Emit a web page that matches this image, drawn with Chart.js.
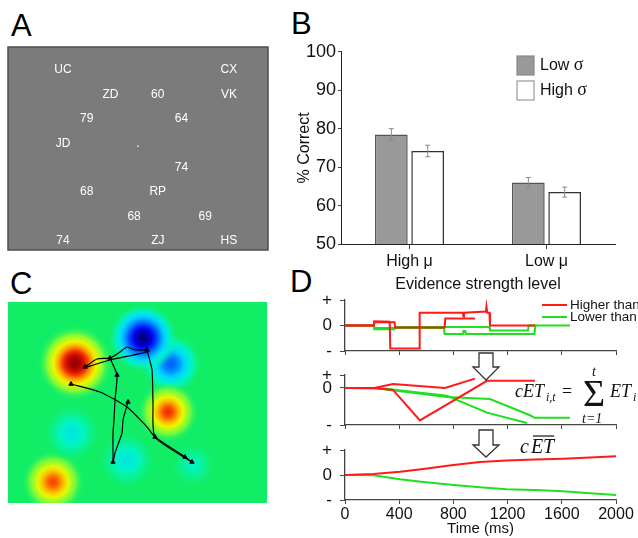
<!DOCTYPE html>
<html>
<head>
<meta charset="utf-8">
<script src="https://cdn.jsdelivr.net/npm/chart.js@4.4.1/dist/chart.umd.min.js"></script>
<style>
  body { margin: 0; background: #fff; }
  #page { position: relative; width: 638px; height: 538px; overflow: hidden; font-family: 'Liberation Sans', Arial, sans-serif; }
  canvas, .tag, svg { position: absolute; }
  .tag { font-size: 31px; line-height: 31px; color: #000; }
</style>
</head>
<body>
<div id="page">
  <div class="tag" style="left:11px;top:10px">A</div>
  <div class="tag" style="left:291px;top:8px">B</div>
  <div class="tag" style="left:10px;top:268px">C</div>
  <div class="tag" style="left:290px;top:266px">D</div>
  <canvas id="cA" width="275" height="215" style="left:0;top:40px"></canvas>
  <canvas id="cB" width="358" height="258" style="left:280px;top:39px"></canvas>
  <canvas id="cC" width="280" height="250" style="left:0;top:262px"></canvas>
  <canvas id="cD1" width="348" height="92" style="left:290px;top:283px"></canvas>
  <canvas id="cD2" width="348" height="94" style="left:290px;top:358px"></canvas>
  <canvas id="cD3" width="348" height="108" style="left:290px;top:430px"></canvas>
  <svg width="638" height="538" style="left:0;top:0">
    <polygon points="479,353 493,353 493,367 499,367 486,380 473,367 479,367" fill="#fff" stroke="#333" stroke-width="1.3"/>
    <polygon points="479,430 493,430 493,445 499,445 486,457 473,445 479,445" fill="#fff" stroke="#333" stroke-width="1.3"/>
  </svg>
</div>
<script>
// ---- A: stimulus screen (8 x 8 grid positions)
const aText = ['UC', 'CX', 'ZD', '60', 'VK', '79', '64', 'JD', '.', '74', '68', 'RP', '68', '69', '74', 'ZJ', 'HS'];
const aCol = [0, 7, 2, 4, 7, 1, 5, 0, 3.16, 5, 1, 4, 3, 6, 0, 4, 7];
const aRow = [0, 0, 1, 1, 1, 2, 2, 3, 3, 4, 5, 5, 6, 6, 7, 7, 7];

// ---- B: accuracy
const bCats = ['High \u03bc', 'Low \u03bc'];
const bLowSigma = [78.5, 66.0];
const bHighSigma = [74.2, 63.5];
const bLowSigmaErr = [1.5, 1.3];
const bHighSigmaErr = [1.5, 1.3];
const bTicks = [50, 60, 70, 80, 90, 100];
const bLegend = ['Low ', 'High '];

// ---- C: value map blobs and eye tracks
const blobX = [67, 163, 135, 160, 45, 64, 119, 185];
const blobY = [61, 62, 36, 110, 180, 131, 158, 163];
const blobR = [37, 30, 34, 30, 31, 28, 28, 22];
const blobPeak = [1.0, -0.55, -1.0, 0.74, 0.7, -0.2, -0.2, -0.12];
const tracks = [
  [[77, 65], [89, 57], [102, 56], [112, 50], [119, 45], [124, 47], [129, 48], [139, 48]],
  [[140, 50], [102, 58], [79, 65]],
  [[102, 56], [109, 73], [107, 98], [106, 118], [105, 131], [105, 158]],
  [[120, 100], [115, 118], [114, 131], [107, 151], [105, 161]],
  [[139, 48], [144, 68], [145, 101], [147, 135], [184, 160]],
  [[63, 82], [92, 90], [119, 105], [139, 125], [147, 135], [177, 155], [184, 160]]
];
const trackMarks = [[77, 65], [102, 56], [139, 48], [109, 73], [63, 82], [120, 100], [105, 160], [147, 135], [177, 155], [184, 160]];

// ---- D: evidence traces (time ms, value)
const timeTicks = [0, 400, 800, 1200, 1600, 2000];
const signTicks = ['-', '0', '+'];
const etRed1 = [[0, 0], [214, 0], [216, 0.17], [330, 0.15], [334, -0.9], [547, -0.9], [551, 0.5], [870, 0.5], [874, 0.35], [878, 0.5], [1040, 0.55], [1044, 0.75], [1050, 0.5], [1066, 0.5], [1070, 0], [1402, 0]];
const etRed2 = [[0, 0], [214, 0], [216, 0.13], [366, 0.13], [370, -0.08], [735, -0.08], [740, 0.27], [959, 0.27]];
const etGreen1 = [[0, 0], [214, 0], [216, -0.15], [366, -0.15], [370, -0.06], [1066, -0.06], [1070, -0.2], [1350, -0.2], [1356, 0], [1660, 0]];
const etGreen2 = [[0, 0], [214, 0], [216, -0.1], [730, -0.1], [735, -0.33], [870, -0.33], [874, -0.22], [886, -0.22], [890, -0.33], [1398, -0.33], [1405, 0], [1412, 0]];
const cetRed1 = [[0, 0], [216, 0], [354, -0.15], [553, -2.5], [1048, 0.55], [1402, 0.55]];
const cetRed2 = [[0, 0], [216, 0], [354, 0.3], [738, 0.0], [959, 0.72]];
const cetGreen1 = [[0, 0], [216, 0], [752, -0.7], [1070, -0.85], [1365, -2.1], [1400, -2.3], [1660, -2.3]];
const cetGreen2 = [[0, 0], [300, -0.05], [752, -0.6], [1048, -1.9], [1343, -2.7]];
const avgT = [0, 209, 406, 578, 800, 997, 1193, 1400, 1611, 1808, 2000];
const avgRed = [0, 0.04, 0.13, 0.24, 0.4, 0.52, 0.58, 0.62, 0.65, 0.7, 0.75];
const avgGreen = [0, -0.01, -0.17, -0.28, -0.4, -0.49, -0.57, -0.6, -0.65, -0.73, -0.8];

const SANS = "'Liberation Sans', Arial, sans-serif";
const SERIF = "'Liberation Serif', 'DejaVu Serif', serif";
const AXIS = '#444';
const RED = '#ff1a1a';
const GREEN = '#1fe01f';
Chart.defaults.font.family = SANS;
Chart.defaults.color = '#111';

const quiet = { legend: { display: false }, tooltip: { enabled: false } };

// ---------- A
const screenPlugin = {
  id: 'screen',
  beforeDatasetsDraw(chart) {
    const { ctx, chartArea: a } = chart;
    ctx.save();
    ctx.fillStyle = '#7b7b7b';
    ctx.fillRect(a.left, a.top, a.width, a.height);
    ctx.strokeStyle = '#4d4d4d';
    ctx.lineWidth = 1.5;
    ctx.strokeRect(a.left, a.top, a.width, a.height);
    ctx.restore();
  },
  afterDatasetsDraw(chart) {
    const { ctx, scales } = chart;
    ctx.save();
    ctx.fillStyle = '#fff';
    ctx.font = '12px ' + SANS;
    ctx.textAlign = 'center';
    ctx.textBaseline = 'middle';
    aText.forEach((t, i) => {
      ctx.fillText(t, scales.x.getPixelForValue(aCol[i]), scales.y.getPixelForValue(aRow[i]));
    });
    ctx.restore();
  }
};

new Chart(document.getElementById('cA'), {
  type: 'scatter',
  data: { datasets: [{ data: aCol.map((c, i) => ({ x: c, y: aRow[i] })), pointRadius: 0 }] },
  options: {
    responsive: false, animation: false, events: [],
    layout: { padding: { left: 8, top: 7, right: 7, bottom: 5 }, autoPadding: false },
    plugins: quiet,
    scales: {
      x: { display: false, min: -2.32, max: 8.65 },
      y: { display: false, min: -0.94, max: 7.37, reverse: true }
    }
  },
  plugins: [screenPlugin]
});

// ---------- B
const barExtras = {
  id: 'barExtras',
  afterDatasetsDraw(chart) {
    const { ctx } = chart;
    const y = chart.scales.y;
    ctx.save();
    ctx.strokeStyle = '#8a8a8a';
    ctx.lineWidth = 1;
    [bLowSigmaErr, bHighSigmaErr].forEach((err, di) => {
      chart.getDatasetMeta(di).data.forEach((bar, i) => {
        const v = chart.data.datasets[di].data[i];
        const yt = y.getPixelForValue(v + err[i]);
        const yb = y.getPixelForValue(v - err[i]);
        ctx.beginPath();
        ctx.moveTo(bar.x, yt); ctx.lineTo(bar.x, yb);
        ctx.moveTo(bar.x - 2.5, yt); ctx.lineTo(bar.x + 2.5, yt);
        ctx.moveTo(bar.x - 2.5, yb); ctx.lineTo(bar.x + 2.5, yb);
        ctx.stroke();
      });
    });
    // legend
    const fills = ['#999', '#fff'];
    const strokes = ['#888', '#999'];
    bLegend.forEach((t, i) => {
      const top = 17 + i * 25;
      ctx.fillStyle = fills[i];
      ctx.fillRect(237, top, 17, 19);
      ctx.strokeStyle = strokes[i];
      ctx.lineWidth = 1.2;
      ctx.strokeRect(237, top, 17, 19);
      ctx.fillStyle = '#111';
      ctx.textBaseline = 'middle';
      ctx.font = '16px ' + SANS;
      ctx.fillText(t, 260, top + 10);
      const w = ctx.measureText(t).width;
      ctx.font = '18px ' + SERIF;
      ctx.fillText('\u03c3', 260 + w, top + 9);
    });
    ctx.restore();
  }
};

new Chart(document.getElementById('cB'), {
  type: 'bar',
  data: {
    labels: bCats,
    datasets: [
      { data: bLowSigma, backgroundColor: '#999', borderColor: '#555', borderWidth: 1.5 },
      { data: bHighSigma, backgroundColor: '#fff', borderColor: '#333', borderWidth: 1.5 }
    ]
  },
  options: {
    responsive: false, animation: false, events: [],
    layout: { padding: { top: 12, right: 23, left: 0, bottom: 0 } },
    datasets: { bar: { categoryPercentage: 0.53, barPercentage: 0.9 } },
    plugins: quiet,
    scales: {
      x: {
        grid: { offset: false, drawOnChartArea: false, tickLength: 5, color: AXIS },
        border: { color: '#222' },
        ticks: { font: { size: 16 }, padding: 3 },
        title: { display: true, text: 'Evidence strength level', font: { size: 16 }, padding: { top: 0, bottom: 3 } },
        afterFit: s => { s.height = 53; }
      },
      y: {
        min: 50, max: 100,
        afterBuildTicks: s => { s.ticks = bTicks.map(v => ({ value: v })); },
        grid: { drawOnChartArea: false, tickLength: 3, color: AXIS },
        border: { color: '#222' },
        ticks: { font: { size: 18 }, padding: 2 },
        title: { display: true, text: '% Correct', font: { size: 16 }, padding: { top: 15, bottom: 0 } },
        afterFit: s => { s.width = 61; }
      }
    }
  },
  plugins: [barExtras]
});

// ---------- C
const jetStops = [
  [-1, [0, 0, 128]], [-0.8, [0, 0, 245]], [-0.55, [0, 100, 255]], [-0.3, [0, 215, 255]],
  [-0.12, [0, 245, 195]], [0, [17, 238, 102]], [0.15, [120, 250, 60]], [0.35, [235, 250, 0]],
  [0.55, [255, 165, 0]], [0.78, [240, 20, 0]], [1, [150, 0, 0]]
];
function jet(v, a) {
  let k = 0;
  while (k < jetStops.length - 2 && v > jetStops[k + 1][0]) k++;
  const [v0, c0] = jetStops[k], [v1, c1] = jetStops[k + 1];
  const f = Math.max(0, Math.min(1, (v - v0) / (v1 - v0)));
  const c = c0.map((x, j) => Math.round(x + (c1[j] - x) * f));
  return `rgba(${c[0]},${c[1]},${c[2]},${a})`;
}

const fieldPlugin = {
  id: 'field',
  beforeDatasetsDraw(chart) {
    const { ctx, chartArea: a } = chart;
    ctx.save();
    ctx.fillStyle = jet(0, 1);
    ctx.fillRect(a.left, a.top, a.width, a.height);
    ctx.restore();
  }
};

new Chart(document.getElementById('cC'), {
  type: 'scatter',
  data: {
    datasets: [
      {
        data: trackMarks.map(p => ({ x: p[0], y: p[1] })),
        pointStyle: 'triangle', pointRadius: 2.5, backgroundColor: '#000', borderColor: '#000', borderWidth: 1
      },
      ...tracks.map(t => ({
        data: t.map(p => ({ x: p[0], y: p[1] })),
        showLine: true, borderColor: '#000', borderWidth: 1.2, pointRadius: 0, tension: 0.2
      })),
      {
        type: 'bubble',
        data: blobX.map((x, i) => ({ x, y: blobY[i], r: blobR[i] })),
        borderWidth: 0,
        backgroundColor: c => {
          if (c.type !== 'data') return 'rgba(0,0,0,0)';
          const ch = c.chart, i = c.dataIndex;
          const px = ch.scales.x.getPixelForValue(blobX[i]);
          const py = ch.scales.y.getPixelForValue(blobY[i]);
          if (!isFinite(px) || !isFinite(py)) return jet(blobPeak[i], 1);
          const g = ch.ctx.createRadialGradient(px, py, 0, px, py, blobR[i]);
          for (let k = 0; k <= 12; k++) {
            const s = k / 12;
            g.addColorStop(s, jet(blobPeak[i] * Math.exp(-3 * s * s), Math.min(1, (1 - s) * 4)));
          }
          return g;
        }
      }
    ]
  },
  options: {
    responsive: false, animation: false, events: [],
    layout: { padding: { left: 8, top: 40, right: 13, bottom: 9 }, autoPadding: false },
    plugins: quiet,
    scales: {
      x: { display: false, min: 0, max: 259 },
      y: { display: false, min: 0, max: 201, reverse: true }
    }
  },
  plugins: [fieldPlugin]
});

// ---------- D
function trace(pts, color) {
  return { data: pts.map(p => ({ x: p[0], y: p[1] })), borderColor: color, borderWidth: 2, pointRadius: 0, tension: 0 };
}

function dOptions(yMin, yMax, padTop, xHeight, withLabels, tension) {
  const yVals = [yMin, 0, yMax];
  return {
    responsive: false, animation: false, events: [],
    layout: { padding: { top: padTop, right: 22, left: 0, bottom: 0 } },
    plugins: quiet,
    elements: { line: { tension } },
    scales: {
      x: {
        type: 'linear', min: 0, max: 2000,
        afterBuildTicks: s => { s.ticks = timeTicks.map(v => ({ value: v })); },
        afterFit: s => { s.height = xHeight; },
        grid: { drawOnChartArea: false, tickLength: 4, color: AXIS },
        border: { color: AXIS, width: 1.3 },
        ticks: { display: withLabels, padding: 1, font: { size: 16 }, maxRotation: 0, callback: v => String(v) },
        title: { display: withLabels, text: 'Time (ms)', font: { size: 15 }, padding: { top: 0, bottom: 0 } }
      },
      y: {
        min: yMin, max: yMax,
        afterBuildTicks: s => { s.ticks = yVals.map(v => ({ value: v })); },
        afterFit: s => { s.width = 55; },
        grid: { drawOnChartArea: false, tickLength: 5, color: AXIS },
        border: { color: AXIS, width: 1.3 },
        ticks: { autoSkip: false, padding: 8, font: { size: 17, lineHeight: 1 }, callback: (v, i) => signTicks[i] }
      }
    }
  };
}

const d1Legend = {
  id: 'd1Legend',
  afterDraw(chart) {
    const { ctx } = chart;
    ctx.save();
    ctx.lineWidth = 2;
    ctx.font = '13.5px ' + SANS;
    ctx.textBaseline = 'middle';
    ctx.fillStyle = '#111';
    [[RED, 'Higher than level', 22], [GREEN, 'Lower than level', 34]].forEach(([c, t, y]) => {
      ctx.strokeStyle = c;
      ctx.beginPath(); ctx.moveTo(252, y); ctx.lineTo(277, y); ctx.stroke();
      ctx.fillText(t, 280, y);
    });
    ctx.restore();
  }
};

const d2Formula = {
  id: 'd2Formula',
  afterDraw(chart) {
    const { ctx } = chart;
    ctx.save();
    ctx.fillStyle = '#111';
    ctx.textBaseline = 'alphabetic';
    ctx.font = 'italic 18px ' + SERIF;
    ctx.fillText('cET', 225, 39);
    ctx.font = 'italic 12px ' + SERIF;
    ctx.fillText('i,t', 256, 43);
    ctx.font = '18px ' + SERIF;
    ctx.fillText('=', 272, 39);
    ctx.font = '38px ' + SERIF;
    ctx.fillText('\u03a3', 293, 48);
    ctx.font = 'italic 14px ' + SERIF;
    ctx.fillText('t', 302, 18);
    ctx.fillText('t=1', 292, 65);
    ctx.font = 'italic 18px ' + SERIF;
    ctx.fillText('ET', 320, 39);
    ctx.font = 'italic 12px ' + SERIF;
    ctx.fillText('i', 343, 43);
    ctx.restore();
  }
};

const d3Formula = {
  id: 'd3Formula',
  afterDraw(chart) {
    const { ctx } = chart;
    ctx.save();
    ctx.fillStyle = '#111';
    ctx.strokeStyle = '#111';
    ctx.font = 'italic 20px ' + SERIF;
    ctx.textBaseline = 'alphabetic';
    ctx.fillText('c', 230, 23);
    const cw = ctx.measureText('c').width;
    const w = ctx.measureText('ET').width;
    ctx.fillText('ET', 232 + cw, 23);
    ctx.lineWidth = 1.2;
    ctx.beginPath(); ctx.moveTo(234 + cw, 6); ctx.lineTo(232 + cw + w, 6); ctx.stroke();
    ctx.restore();
  }
};

new Chart(document.getElementById('cD1'), {
  type: 'line',
  data: { datasets: [trace(etRed1, RED), trace(etRed2, RED), trace(etGreen1, GREEN), trace(etGreen2, GREEN)] },
  options: dOptions(-1, 1, 17, 24, false, 0),
  plugins: [d1Legend]
});

new Chart(document.getElementById('cD2'), {
  type: 'line',
  data: { datasets: [trace(cetRed1, RED), trace(cetRed2, RED), trace(cetGreen1, GREEN), trace(cetGreen2, GREEN)] },
  options: dOptions(-2.85, 1, 17, 27, false, 0),
  plugins: [d2Formula]
});

new Chart(document.getElementById('cD3'), {
  type: 'line',
  data: {
    datasets: [
      trace(avgT.map((t, i) => [t, avgRed[i]]), RED),
      trace(avgT.map((t, i) => [t, avgGreen[i]]), GREEN)
    ]
  },
  options: dOptions(-1, 1, 20, 38, true, 0.35),
  plugins: [d3Formula]
});
</script>
</body>
</html>
